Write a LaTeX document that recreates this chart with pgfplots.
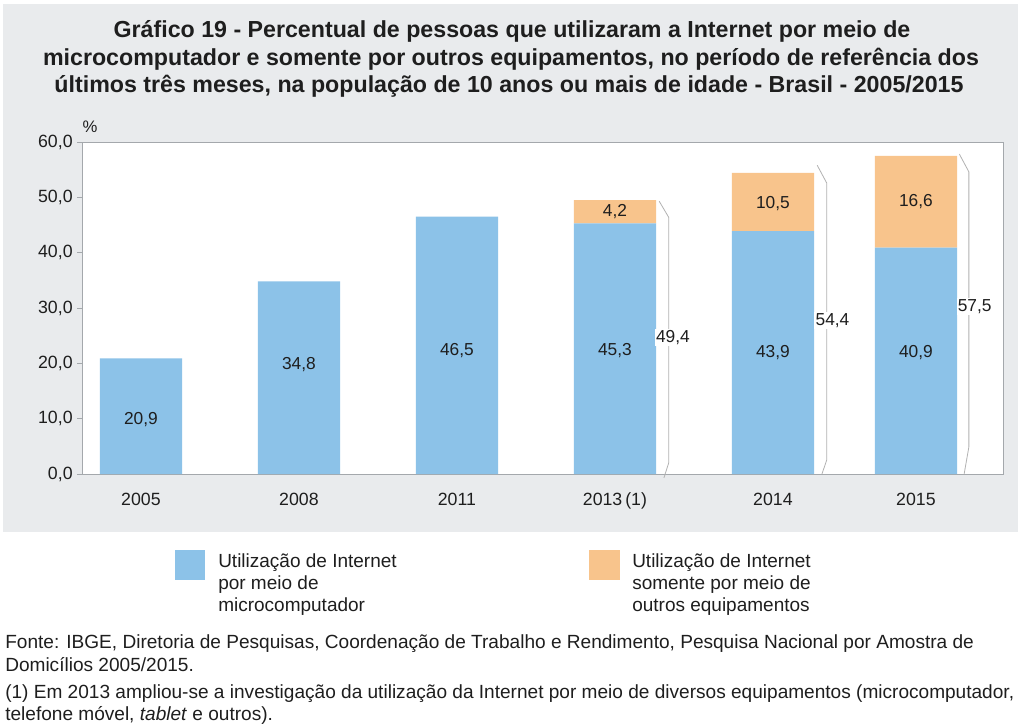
\documentclass[border=0pt]{standalone}
\usepackage{fontspec}
\setmainfont{Liberation Sans}
\usepackage{pgfplots}
\pgfplotsset{compat=1.18}
\definecolor{bgg}{HTML}{E9EBED}
\definecolor{cblue}{HTML}{8CC2E8}
\definecolor{corange}{HTML}{F8C48C}
\definecolor{txt}{HTML}{1E1E1E}
\definecolor{axg}{HTML}{A4A8AC}
\tikzset{
  ttl/.style={anchor=base, inner sep=0pt, text=txt, font=\fontsize{17.4}{20}\selectfont\bfseries},
  leg/.style={anchor=base west, inner sep=0pt, text=txt, font=\fontsize{14.25}{17}\selectfont},
  fnt/.style={anchor=base west, inner sep=0pt, text=txt, font=\fontsize{14.3}{17}\selectfont},
  vl/.style={text=txt, font=\fontsize{13}{15}\selectfont, inner sep=1pt},
  br/.style={gray!60, line width=0.6pt}
}
\begin{document}
\begin{tikzpicture}
\begin{scope}[x=0.75pt,y=-0.75pt]
\path[use as bounding box] (0,0) rectangle (1024,725);
\fill[bgg] (3,4) rectangle (1018,532);
\node[ttl] at (512,37) {Gráfico 19 - Percentual de pessoas que utilizaram a Internet por meio de};
\node[ttl] at (511,65) {microcomputador e somente por outros equipamentos, no período de referência dos};
\node[ttl] at (509,92) {últimos três meses, na população de 10 anos ou mais de idade - Brasil - 2005/2015};
\node[anchor=base, inner sep=0pt, text=txt, font=\fontsize{12.5}{15}\selectfont] at (90,132) {\%};
\fill[cblue] (175,550) rectangle (205,580);
\fill[corange] (589,550) rectangle (620,580);
\node[leg] at (218,567) {Utilização de Internet};
\node[leg] at (218,589) {por meio de};
\node[leg] at (218,611) {microcomputador};
\node[leg] at (632,567) {Utilização de Internet};
\node[leg] at (632,589) {somente por meio de};
\node[leg] at (632,611) {outros equipamentos};
\node[fnt] at (5,648) {Fonte: IBGE, Diretoria de Pesquisas, Coordenação de Trabalho e Rendimento, Pesquisa Nacional por Amostra de};
\node[fnt] at (5,671) {Domicílios 2005/2015.};
\node[fnt] at (5,698) {(1) Em 2013 ampliou-se a investigação da utilização da Internet por meio de diversos equipamentos (microcomputador,};
\node[fnt] at (5,720) {telefone móvel, \textit{tablet} e outros).};
\end{scope}
\begin{axis}[
  at={(61.5pt,-355.5pt)}, anchor=south west,
  scale only axis, width=690.75pt, height=249pt,
  xmin=-0.373, xmax=5.456, ymin=0, ymax=60,
  ytick={0,10,20,30,40,50,60},
  xtick={0,1,2,3,4,4.905},
  xticklabels={2005,2008,2011,{2013\,(1)},2014,2015},
  ybar stacked, bar width=0.52,
  axis background/.style={fill=white},
  axis line style={axg, line width=0.6pt},
  tick align=outside,
  ytick pos=left,
  major tick length=3.5pt,
  ytick style={axg, line width=0.6pt},
  xtick style={draw=none},
  clip=false,
  tick label style={text=txt, font=\fontsize{13.3}{15}\selectfont},
  yticklabel style={/pgf/number format/.cd, fixed, fixed zerofill, precision=1, use comma, assume math mode=true},
  xticklabel style={yshift=-7pt, text depth=0pt},
]
\addplot[fill=cblue, draw=none] coordinates {(0,20.9) (1,34.8) (2,46.5) (3,45.3) (4,43.9) (4.905,40.9)};
\addplot[fill=corange, draw=none] coordinates {(0,0) (1,0) (2,0) (3,4.2) (4,10.5) (4.905,16.6)};
\draw[br] (axis cs:3.28,49.3) -- (axis cs:3.34,46.4) -- (axis cs:3.34,2.0) -- (axis cs:3.31,-0.7);
\draw[br] (axis cs:4.28,55.8) -- (axis cs:4.34,52.6) -- (axis cs:4.34,2.5) -- (axis cs:4.31,0.0);
\draw[br] (axis cs:5.18,57.8) -- (axis cs:5.24,54.6) -- (axis cs:5.24,4.9) -- (axis cs:5.21,0.0);
\coordinate (b1) at (axis cs:0,9.8);
\coordinate (b2) at (axis cs:1,19.7);
\coordinate (b3) at (axis cs:2,22.4);
\coordinate (b4) at (axis cs:3,22.4);
\coordinate (b5) at (axis cs:4,21.9);
\coordinate (b6) at (axis cs:4.905,22);
\coordinate (o4) at (axis cs:3,47.35);
\coordinate (o5) at (axis cs:4,48.8);
\coordinate (o6) at (axis cs:4.905,49.3);
\coordinate (t4) at (axis cs:3.25,24.6);
\coordinate (t5) at (axis cs:4.26,27.8);
\coordinate (t6) at (axis cs:5.16,30.2);
\end{axis}
\node[vl] at (b1) {20,9};
\node[vl] at (b2) {34,8};
\node[vl] at (b3) {46,5};
\node[vl] at (b4) {45,3};
\node[vl] at (b5) {43,9};
\node[vl] at (b6) {40,9};
\node[vl] at (o4) {4,2};
\node[vl] at (o5) {10,5};
\node[vl] at (o6) {16,6};
\node[vl, anchor=west, fill=white] at (t4) {49,4};
\node[vl, anchor=west, fill=white] at (t5) {54,4};
\node[vl, anchor=west, fill=white] at (t6) {57,5};
\end{tikzpicture}
\end{document}
